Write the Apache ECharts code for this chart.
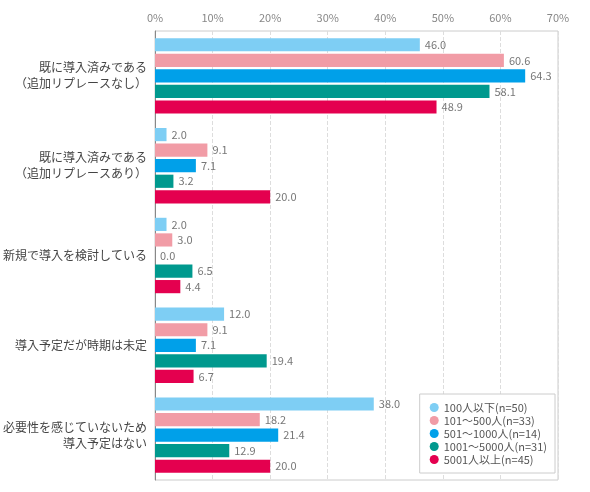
<!DOCTYPE html>
<html>
<head>
    <meta charset="utf-8">
    <script src="https://cdn.jsdelivr.net/npm/echarts@6/dist/echarts.min.js"></script>
    <style>
        html, body { margin: 0; padding: 0; background: #fff; }
        #main { width: 590px; height: 492px; }
    </style>
</head>
<body>
<div id="main"></div>
<script type="text/javascript">
    // 回答項目
    var categories = [
        '既に導入済みである\n（追加リプレースなし）',
        '既に導入済みである\n（追加リプレースあり）',
        '新規で導入を検討している',
        '導入予定だが時期は未定',
        '必要性を感じていないため\n導入予定はない'
    ];
    // 従業員規模
    var seriesNames = ['100人以下(n=50)', '101～500人(n=33)', '501～1000人(n=14)', '1001～5000人(n=31)', '5001人以上(n=45)'];
    var colors = ['#7ecef4', '#f19ca6', '#00a0e9', '#00998e', '#e4004f'];

    var s100 = [46.0, 2.0, 2.0, 12.0, 38.0];
    var s500 = [60.6, 9.1, 3.0, 9.1, 18.2];
    var s1000 = [64.3, 7.1, 0.0, 7.1, 21.4];
    var s5000 = [58.1, 3.2, 6.5, 19.4, 12.9];
    var sOver = [48.9, 20.0, 4.4, 6.7, 20.0];
    var values = [s100, s500, s1000, s5000, sOver];

    var font = '"Noto Sans CJK JP", "Noto Sans", sans-serif';

    var series = [];
    for (var i = 0; i < seriesNames.length; i++) {
        series.push({
            name: seriesNames[i],
            type: 'bar',
            data: values[i],
            barGap: '18%',
            barCategoryGap: '16%',
            itemStyle: { color: colors[i] },
            label: {
                show: true,
                position: 'right',
                distance: 5,
                color: '#777',
                fontSize: 11,
                fontFamily: font,
                formatter: function (p) { return p.value.toFixed(1); }
            }
        });
    }

    var myChart = echarts.init(document.getElementById('main'));
    var option = {
        animation: false,
        textStyle: { fontFamily: font },
        grid: {
            left: 155, right: 32, top: 31, bottom: 12,
            show: true, borderColor: '#ccc', borderWidth: 1
        },
        legend: {
            orient: 'vertical',
            right: 35, bottom: 19,
            icon: 'circle',
            itemWidth: 9, itemHeight: 9,
            itemGap: 2,
            padding: [8, 8, 8, 10],
            backgroundColor: '#fff',
            borderColor: '#ccc',
            borderWidth: 1,
            borderRadius: 0,
            textStyle: { fontSize: 11, color: '#555', fontFamily: font }
        },
        xAxis: {
            type: 'value',
            position: 'top',
            min: 0, max: 70, interval: 10,
            axisLine: { show: false },
            axisTick: { show: false },
            axisLabel: { formatter: '{value}%', color: '#888', fontSize: 11, margin: 8 },
            splitLine: { lineStyle: { color: '#ddd', type: 'dashed' } }
        },
        yAxis: {
            type: 'category',
            inverse: true,
            data: categories,
            axisLine: { lineStyle: { color: '#888' } },
            axisTick: { show: false },
            axisLabel: { color: '#444', fontSize: 12, lineHeight: 16, margin: 8, align: 'right' }
        },
        series: series
    };
    myChart.setOption(option);
</script>
</body>
</html>
